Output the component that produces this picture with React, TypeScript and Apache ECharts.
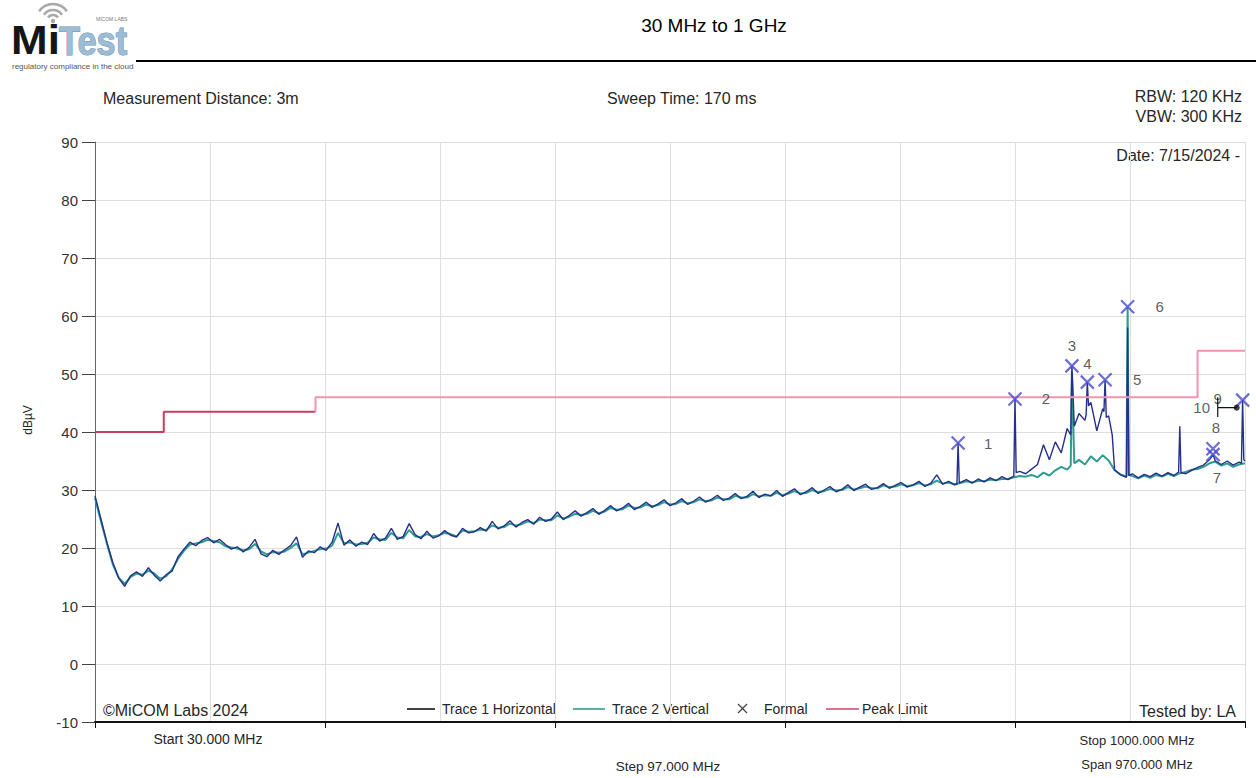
import { useEffect, useRef } from "react";
import * as echarts from "echarts";

const FONT = '"Liberation Sans", Arial, Helvetica, sans-serif';

// Sweep span (MHz) and amplitude range (dBµV)
const startMHz = 30;
const stopMHz = 1000;
const gridStepMHz = 97;
const tickStepMHz = 194;
const ampMin = -10;
const ampMax = 90;
const ampStep = 10;

// Trace 1 – horizontal antenna polarisation [MHz, dBµV]
const trace1Horizontal: [number, number][] = [
  [30, 29.0], [35, 25.0], [40, 21.0], [45, 17.5], [50, 14.8], [55, 13.4], [60, 15.2], [65, 15.9], [70, 15.1], [75, 16.6],
  [80, 15.3], [85, 14.3], [90, 15.4], [95, 16.0], [100, 18.5], [105, 19.8], [110, 21.0], [115, 20.4], [120, 21.3], [125, 21.8],
  [130, 20.9], [135, 21.5], [140, 20.6], [145, 19.8], [150, 20.2], [155, 19.3], [160, 20.1], [165, 21.5], [170, 19.0], [175, 18.5],
  [180, 19.6], [185, 18.9], [190, 19.7], [195, 20.4], [200, 21.9], [205, 18.4], [210, 19.5], [215, 19.2], [220, 20.2], [225, 19.6],
  [230, 21.0], [235, 24.3], [240, 20.5], [245, 21.4], [250, 20.3], [255, 21.0], [260, 20.6], [265, 22.5], [270, 21.2], [275, 21.7],
  [280, 23.4], [285, 21.5], [290, 22.0], [295, 24.2], [300, 22.3], [305, 21.6], [310, 22.9], [315, 21.7], [320, 22.1], [325, 23.0],
  [330, 22.2], [335, 21.9], [340, 23.4], [345, 22.6], [350, 22.8], [355, 23.5], [360, 22.9], [365, 24.6], [370, 23.3], [375, 23.8],
  [380, 24.7], [385, 23.6], [390, 24.4], [395, 24.9], [400, 24.1], [405, 25.3], [410, 24.6], [415, 25.0], [420, 26.2], [425, 24.9],
  [430, 25.6], [435, 26.4], [440, 25.5], [445, 26.1], [450, 26.8], [455, 25.8], [460, 26.5], [465, 27.3], [470, 26.4], [475, 26.9],
  [480, 27.7], [485, 26.6], [490, 27.2], [495, 27.9], [500, 27.0], [505, 27.6], [510, 28.3], [515, 27.3], [520, 27.8], [525, 28.5],
  [530, 27.5], [535, 28.1], [540, 28.8], [545, 27.9], [550, 28.4], [555, 29.1], [560, 28.2], [565, 28.6], [570, 29.4], [575, 28.5],
  [580, 28.9], [585, 29.8], [590, 28.7], [595, 29.3], [600, 29.0], [605, 29.9], [610, 28.9], [615, 29.6], [620, 30.2], [625, 29.2],
  [630, 29.7], [635, 30.4], [640, 29.4], [645, 30.0], [650, 30.6], [655, 29.7], [660, 30.1], [665, 30.9], [670, 29.9], [675, 30.5],
  [680, 31.0], [685, 30.1], [690, 30.4], [695, 31.1], [700, 30.3], [705, 30.8], [710, 31.3], [715, 30.5], [720, 30.9], [725, 31.5],
  [730, 30.6], [735, 31.2], [740, 32.6], [745, 31.0], [750, 31.5], [755, 30.9], [757, 31.0], [758, 38.1], [759, 31.2], [760, 31.3],
  [765, 31.8], [770, 31.2], [775, 31.9], [780, 31.4], [785, 32.1], [790, 31.6], [795, 32.3], [800, 31.8], [805, 32.4], [806, 45.7],
  [807, 33.0], [810, 33.2], [815, 32.8], [820, 33.6], [825, 34.4], [830, 37.8], [835, 35.2], [840, 38.3], [845, 36.4], [850, 40.6],
  [853, 39.5], [854, 51.4], [856, 41.0], [860, 43.2], [865, 42.0], [866, 43.0], [867, 48.6], [868, 44.5], [870, 45.1], [875, 40.2],
  [880, 44.0], [881, 43.5], [882, 49.0], [883, 42.5], [885, 42.8], [888, 39.5], [890, 33.5], [895, 32.6], [900, 32.2], [901, 58.0],
  [902, 32.5], [905, 32.8], [910, 32.1], [915, 32.7], [920, 32.3], [925, 32.9], [930, 32.4], [935, 33.0], [940, 32.5], [944, 33.1],
  [945, 41.0], [946, 33.0], [950, 32.8], [955, 33.4], [960, 33.9], [965, 34.3], [970, 35.2], [973, 36.1], [975, 35.0], [980, 34.4],
  [985, 35.0], [990, 34.3], [995, 34.8], [997, 34.6], [998, 45.5], [999, 35.2], [1000, 35.0],
];

// Trace 2 – vertical antenna polarisation [MHz, dBµV]
const trace2Vertical: [number, number][] = [
  [30, 28.6], [35, 24.6], [40, 20.8], [45, 17.2], [50, 14.9], [55, 13.8], [60, 15.0], [65, 15.6], [70, 15.4], [75, 16.1],
  [80, 15.6], [85, 14.7], [90, 15.1], [95, 16.3], [100, 18.1], [105, 19.5], [110, 20.6], [115, 20.8], [120, 21.0], [125, 21.4],
  [130, 21.2], [135, 21.0], [140, 20.3], [145, 20.1], [150, 19.9], [155, 19.6], [160, 19.8], [165, 20.7], [170, 19.4], [175, 18.9],
  [180, 19.3], [185, 19.2], [190, 19.4], [195, 20.0], [200, 20.8], [205, 18.9], [210, 19.2], [215, 19.5], [220, 19.8], [225, 19.9],
  [230, 20.4], [235, 22.6], [240, 20.8], [245, 21.0], [250, 20.6], [255, 20.7], [260, 20.9], [265, 21.8], [270, 21.5], [275, 21.4],
  [280, 22.6], [285, 21.8], [290, 21.7], [295, 23.1], [300, 22.0], [305, 21.9], [310, 22.4], [315, 22.0], [320, 22.2], [325, 22.6],
  [330, 22.4], [335, 22.0], [340, 23.0], [345, 22.8], [350, 22.9], [355, 23.2], [360, 23.1], [365, 23.9], [370, 23.5], [375, 23.6],
  [380, 24.2], [385, 23.9], [390, 24.1], [395, 24.6], [400, 24.3], [405, 24.9], [410, 24.8], [415, 24.8], [420, 25.6], [425, 25.1],
  [430, 25.4], [435, 25.9], [440, 25.7], [445, 25.9], [450, 26.4], [455, 26.0], [460, 26.3], [465, 26.9], [470, 26.6], [475, 26.7],
  [480, 27.3], [485, 26.9], [490, 27.0], [495, 27.5], [500, 27.2], [505, 27.4], [510, 27.9], [515, 27.5], [520, 27.6], [525, 28.1],
  [530, 27.7], [535, 27.9], [540, 28.4], [545, 28.1], [550, 28.2], [555, 28.7], [560, 28.4], [565, 28.4], [570, 29.0], [575, 28.7],
  [580, 28.7], [585, 29.3], [590, 28.9], [595, 29.1], [600, 29.0], [605, 29.5], [610, 29.1], [615, 29.4], [620, 29.8], [625, 29.4],
  [630, 29.5], [635, 30.0], [640, 29.6], [645, 29.8], [650, 30.2], [655, 29.9], [660, 30.0], [665, 30.5], [670, 30.1], [675, 30.3],
  [680, 30.6], [685, 30.3], [690, 30.3], [695, 30.8], [700, 30.5], [705, 30.6], [710, 31.0], [715, 30.7], [720, 30.8], [725, 31.2],
  [730, 30.8], [735, 31.0], [740, 31.6], [745, 31.1], [750, 31.3], [755, 31.0], [760, 31.2], [765, 31.5], [770, 31.3], [775, 31.6],
  [780, 31.5], [785, 31.8], [790, 31.7], [795, 31.9], [800, 31.9], [805, 32.2], [810, 32.4], [815, 32.3], [820, 32.6], [825, 32.2],
  [830, 33.0], [835, 32.5], [840, 33.4], [845, 34.0], [850, 33.5], [853, 34.2], [854, 50.5], [856, 34.6], [860, 35.2], [865, 34.4],
  [870, 35.8], [875, 34.9], [880, 36.0], [885, 35.1], [890, 33.4], [895, 32.7], [900, 32.3], [901, 61.6], [902, 32.6], [905, 32.4],
  [910, 32.0], [915, 32.5], [920, 32.1], [925, 32.6], [930, 32.3], [935, 32.8], [940, 32.4], [945, 32.9], [950, 33.1], [955, 33.5],
  [960, 33.6], [965, 34.0], [970, 34.6], [975, 34.9], [980, 34.2], [985, 34.6], [990, 34.0], [995, 34.4], [1000, 34.6],
];

// Radiated emissions peak limit (stepped) [MHz, dBµV]
const peakLimit: [number, number][] = [
  [30, 40], [88, 40], [88, 43.5], [216, 43.5], [216, 46], [960, 46], [960, 54], [1000, 54],
];

// Formal measurement markers [MHz, dBµV] and their labels
const formalMarkers: [number, number][] = [
  [758, 38.1], [806, 45.7], [854, 51.4], [867, 48.6], [882, 49.0], [901, 61.6], [973, 36.1], [973, 37.1], [998, 45.5],
];
const formalLabels = ["1", "2", "3", "4", "5", "6", "7", "8", "9"];
const formalLabelOffsets: [number, number][] = [
  [30, 0], [31, 0], [0, -20], [0, -19], [32, 0], [32, 0], [4, 23], [3, -21], [-25, -2],
];

// Marker 10 (display marker) and its reference bracket [MHz, dBµV]
const marker10: [number, number] = [993, 44.2];
const marker10Bracket: [number, number][] = [[977, 46.0], [977, 42.6], [977, 44.2], [993, 44.2]];

const TRACE1_COLOR = "#25308c";
const TRACE2_COLOR = "#2f9d8d";
const MARKER_COLOR = "#4848cc";
const TEXT_COLOR = "#262626";
const GRID_COLOR = "#dedede";

function txt(
  text: string,
  x: number,
  y: number,
  size: number,
  align: "left" | "center" | "right" = "left",
  extra: Record<string, unknown> = {},
  el: Record<string, unknown> = {}
) {
  return {
    type: "text",
    x,
    y,
    silent: true,
    ...el,
    style: {
      text,
      fill: TEXT_COLOR,
      font: `${size}px ${FONT}`,
      align,
      verticalAlign: "middle",
      ...extra,
    },
  };
}

function buildGraphics() {
  const g: any[] = [];
  // Logo: wifi arcs above the "i"
  [6, 11, 17].forEach((r) => {
    g.push({
      type: "arc",
      silent: true,
      shape: { cx: 53, cy: 21, r, startAngle: (-145 * Math.PI) / 180, endAngle: (-35 * Math.PI) / 180, clockwise: true },
      style: { stroke: "#a8a8a8", lineWidth: 2.6, fill: "none" },
    });
  });
  g.push({ type: "circle", silent: true, shape: { cx: 53, cy: 21, r: 2.2 }, style: { fill: "#a8a8a8" } });
  g.push(txt("Mi", 11, 40, 40, "left", { font: `bold 40px ${FONT}`, fill: "#161616" }, { scaleX: 1.1 }));
  g.push(
    txt(
      "Test",
      59,
      41,
      40,
      "left",
      { font: `bold 40px ${FONT}`, fill: "#9dbcd6", stroke: "#6a8aa6", lineWidth: 1 },
      { scaleX: 0.86 }
    )
  );
  g.push(txt("MICOM LABS", 96, 19, 5, "left", { fill: "#777" }));
  g.push(txt("regulatory compliance in the cloud", 12, 66, 8, "left", { fill: "#555" }));
  // Header rule
  g.push({
    type: "line",
    silent: true,
    shape: { x1: 136, y1: 61, x2: 1256, y2: 61 },
    style: { stroke: "#000", lineWidth: 2 },
  });
  g.push(txt("30 MHz to 1 GHz", 714, 25, 19, "center", { fill: "#000" }));

  // Measurement settings
  g.push(txt("Measurement Distance: 3m", 103, 98, 16));
  g.push(txt("Sweep Time: 170 ms", 607, 98, 16));
  g.push(txt("RBW: 120 KHz", 1242, 96, 16, "right"));
  g.push(txt("VBW: 300 KHz", 1242, 116, 16, "right"));
  g.push(txt("Date: 7/15/2024 -", 1240, 155, 16, "right"));

  // Y unit
  g.push({
    type: "text",
    x: 28,
    y: 420,
    rotation: Math.PI / 2,
    silent: true,
    style: { text: "dBµV", fill: TEXT_COLOR, font: `12px ${FONT}`, align: "center", verticalAlign: "middle" },
  });

  // Footer
  g.push(txt("©MiCOM Labs 2024", 103, 710, 16));
  g.push(txt("Tested by: LA", 1236, 711, 16, "right"));
  g.push(txt("Start 30.000 MHz", 208, 739, 14, "center"));
  g.push(txt("Step 97.000 MHz", 668, 766, 13.5, "center"));
  g.push(txt("Stop 1000.000 MHz", 1137, 740, 13, "center"));
  g.push(txt("Span 970.000 MHz", 1137, 764, 13, "center"));

  // Legend
  const ly = 709;
  g.push({ type: "line", silent: true, shape: { x1: 407, y1: ly, x2: 435, y2: ly }, style: { stroke: "#111", lineWidth: 1.6 } });
  g.push(txt("Trace 1 Horizontal", 442, ly, 14));
  g.push({ type: "line", silent: true, shape: { x1: 573, y1: ly, x2: 605, y2: ly }, style: { stroke: TRACE2_COLOR, lineWidth: 1.6 } });
  g.push(txt("Trace 2 Vertical", 612, ly, 14));
  g.push({ type: "line", silent: true, shape: { x1: 738, y1: ly - 5, x2: 747, y2: ly + 4 }, style: { stroke: "#444", lineWidth: 1.3 } });
  g.push({ type: "line", silent: true, shape: { x1: 747, y1: ly - 5, x2: 738, y2: ly + 4 }, style: { stroke: "#444", lineWidth: 1.3 } });
  g.push(txt("Formal", 764, ly, 14));
  g.push({ type: "line", silent: true, shape: { x1: 826, y1: ly, x2: 859, y2: ly }, style: { stroke: "#d2406a", lineWidth: 1.6 } });
  g.push(txt("Peak Limit", 862, ly, 14));
  return g;
}

export default function App() {
  const ref = useRef<HTMLDivElement>(null);

  useEffect(() => {
    if (!ref.current) return;
    const chart = echarts.init(ref.current, null, { renderer: "svg" });
    // The limit is drawn in two tones: the low-band steps darker, the rest lighter
    const limitLow = peakLimit.slice(0, 4);
    const limitHigh = peakLimit.slice(3);
    const option: any = {
      animation: false,
      backgroundColor: "#ffffff",
      grid: { left: 95, right: 11, top: 142, bottom: 56, containLabel: false },
      xAxis: [
        {
          type: "value",
          min: startMHz,
          max: stopMHz,
          interval: gridStepMHz,
          axisLine: { show: true, onZero: false, lineStyle: { color: "#111", width: 2 } },
          axisTick: { show: false },
          axisLabel: { show: false },
          splitLine: { show: true, lineStyle: { color: GRID_COLOR, width: 1 } },
        },
        {
          type: "value",
          position: "bottom",
          min: startMHz,
          max: stopMHz,
          interval: tickStepMHz,
          axisLine: { show: false, onZero: false },
          axisTick: { show: true, length: 6, lineStyle: { color: "#111", width: 1 } },
          axisLabel: { show: false },
          splitLine: { show: false },
        },
      ],
      yAxis: {
        type: "value",
        min: ampMin,
        max: ampMax,
        interval: ampStep,
        axisLine: { show: true, onZero: false, lineStyle: { color: "#666", width: 1 } },
        axisTick: { show: true, length: 13, lineStyle: { color: "#444", width: 1 } },
        axisLabel: { color: "#333", fontSize: 15, fontFamily: FONT, margin: 17 },
        splitLine: { show: true, lineStyle: { color: GRID_COLOR, width: 1 } },
      },
      series: [
        {
          name: "Trace 2 Vertical",
          type: "line",
          data: trace2Vertical,
          symbol: "none",
          lineStyle: { color: TRACE2_COLOR, width: 2 },
          z: 2,
        },
        {
          name: "Trace 1 Horizontal",
          type: "line",
          data: trace1Horizontal,
          symbol: "none",
          lineStyle: { color: TRACE1_COLOR, width: 1.4 },
          z: 3,
        },
        {
          name: "Peak Limit",
          type: "line",
          data: limitLow,
          symbol: "none",
          lineStyle: { color: "#c93d5f", width: 2 },
          z: 4,
        },
        {
          name: "Peak Limit",
          type: "line",
          data: limitHigh,
          symbol: "none",
          lineStyle: { color: "#f394ad", width: 2 },
          z: 4,
        },
        {
          name: "Formal",
          type: "scatter",
          symbol: "path://M0,0L10,10M10,0L0,10",
          symbolSize: 13,
          itemStyle: { color: "rgba(0,0,0,0)", borderColor: MARKER_COLOR, borderWidth: 2.2 },
          data: formalMarkers.map((p, i) => ({
            value: p,
            label: { offset: formalLabelOffsets[i] },
          })),
          label: {
            show: true,
            position: "inside",
            formatter: (p: any) => formalLabels[p.dataIndex],
            color: "#333",
            fontSize: 15,
            fontFamily: FONT,
          },
          z: 6,
        },
        {
          name: "Marker 10 bracket",
          type: "line",
          data: marker10Bracket,
          symbol: "none",
          lineStyle: { color: "#111", width: 1.2 },
          z: 7,
        },
        {
          name: "Marker 10",
          type: "scatter",
          data: [marker10],
          symbol: "circle",
          symbolSize: 6,
          itemStyle: { color: "#111" },
          label: {
            show: true,
            position: "inside",
            offset: [-35, 0],
            formatter: "10",
            color: "#333",
            fontSize: 15,
            fontFamily: FONT,
          },
          z: 8,
        },
      ],
      graphic: buildGraphics(),
    };
    chart.setOption(option);
    return () => chart.dispose();
  }, []);

  return (
    <div
      ref={ref}
      style={{ position: "fixed", left: 0, top: 0, width: 1256, height: 778, background: "#fff" }}
    />
  );
}
